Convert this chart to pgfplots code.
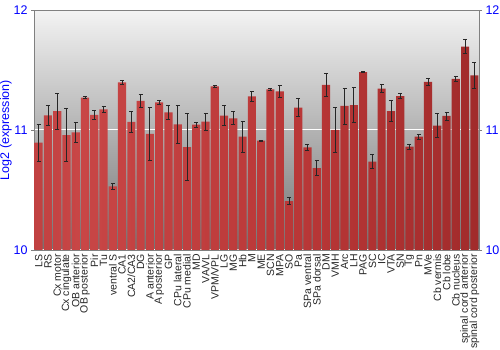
\documentclass[border=0pt]{standalone}
\usepackage{pgfplots}
\pgfplotsset{compat=1.18}
\usepackage{pgfplotstable}
\usepackage{fontspec}
\setmainfont{Liberation Sans}
\definecolor{bgtop}{RGB}{243,243,243}
\definecolor{bgbot}{RGB}{115,115,115}
\pgfdeclarehorizontalshading{barshade}{100bp}{
  color(0bp)=(rgb,255:red,130;green,30;blue,30);
  color(12bp)=(rgb,255:red,175;green,50;blue,50);
  color(30bp)=(rgb,255:red,200;green,70;blue,70);
  color(55bp)=(rgb,255:red,185;green,55;blue,55);
  color(80bp)=(rgb,255:red,155;green,40;blue,40);
  color(100bp)=(rgb,255:red,110;green,22;blue,22)}

\pgfplotstableread{
idx val err
0 10.894 0.155
1 11.122 0.083
2 11.158 0.150
3 10.958 0.220
4 10.980 0.080
5 11.270 0.010
6 11.125 0.035
7 11.172 0.024
8 10.530 0.024
9 11.397 0.017
10 11.067 0.085
11 11.242 0.057
12 10.967 0.220
13 11.231 0.017
14 11.147 0.055
15 11.047 0.160
16 10.858 0.280
17 11.044 0.022
18 11.069 0.072
19 11.364 0.005
20 11.119 0.083
21 11.097 0.054
22 10.944 0.130
23 11.281 0.039
24 10.911 0.005
25 11.339 0.010
26 11.322 0.050
27 10.408 0.030
28 11.186 0.074
29 10.856 0.025
30 10.683 0.060
31 11.375 0.097
32 11.000 0.190
33 11.200 0.150
34 11.208 0.146
35 11.483 0.007
36 10.736 0.057
37 11.344 0.032
38 11.158 0.086
39 11.283 0.020
40 10.861 0.022
41 10.944 0.022
42 11.400 0.028
43 11.036 0.100
44 11.117 0.033
45 11.425 0.018
46 11.694 0.057
47 11.456 0.106
}\datatable

\begin{document}
\begin{tikzpicture}
\path[use as bounding box] (-34pt,-100pt) rectangle (466pt,250pt);
\begin{axis}[
  scale only axis, width=445pt, height=240pt,
  at={(0pt,0pt)}, anchor=south west,
  xmin=-0.5, xmax=47.5, ymin=10, ymax=12,
  ytick={10,11,12}, ytick pos=left,
  xtick={0,...,47},
  xticklabels={LS,RS,Cx motor,Cx cingulate,OB anterior,OB posterior,Pir,Tu,ventral S,CA1,CA2/CA3,DG,A anterior,A posterior,GP,CPu lateral,CPu medial,MD,VA/VL,VPM/VPL,LG,MG,Hb,M,ME,SCN,MPA,SO,Pa,SPa ventral,SPa dorsal,DM,VMH,Arc,LH,PAG,SC,IC,VTA,SN,Tg,Pn,MVe,Cb vermis,Cb lobe,Cb nucleus,spinal cord anterior,spinal cord posterior},
  x tick label style={rotate=90, anchor=east, font=\fontsize{10.5}{10.5}\selectfont, color=black!85, inner sep=1pt},
  major x tick style={draw=none},
  y tick label style={color=blue, font=\fontsize{12.5}{12.5}\selectfont},
  /pgf/number format/assume math mode=true,
  ylabel={Log2 (expression)},
  ylabel shift=-5pt,
  ylabel style={color=blue, font=\fontsize{12.5}{12.5}\selectfont},
  axis line style={gray},
  tick align=outside,
  major tick length=3pt,
  axis background/.style={top color=bgtop, bottom color=bgbot},
  ymajorgrids, grid style={white, line width=1pt},
  ybar, bar width=0.88,
]
\addplot[ybar, bar width=0.88, draw=none, shading=barshade,
  error bars/.cd, y dir=both, y explicit,
  error bar style={black!85, line width=0.8pt},
  error mark options={black!85, mark size=2pt, line width=0.8pt, rotate=90}]
  table[x=idx, y=val, y error=err]{\datatable};
\end{axis}
\begin{axis}[
  scale only axis, width=445pt, height=240pt,
  at={(0pt,0pt)}, anchor=south west,
  xmin=-0.5, xmax=47.5, ymin=10, ymax=12,
  ytick={10,11,12},
  hide x axis, axis y line*=right,
  axis line style={gray},
  tick align=outside, major tick length=3pt,
  y tick label style={color=blue, font=\fontsize{12.5}{12.5}\selectfont},
  /pgf/number format/assume math mode=true,
]
\end{axis}
\end{tikzpicture}
\end{document}
